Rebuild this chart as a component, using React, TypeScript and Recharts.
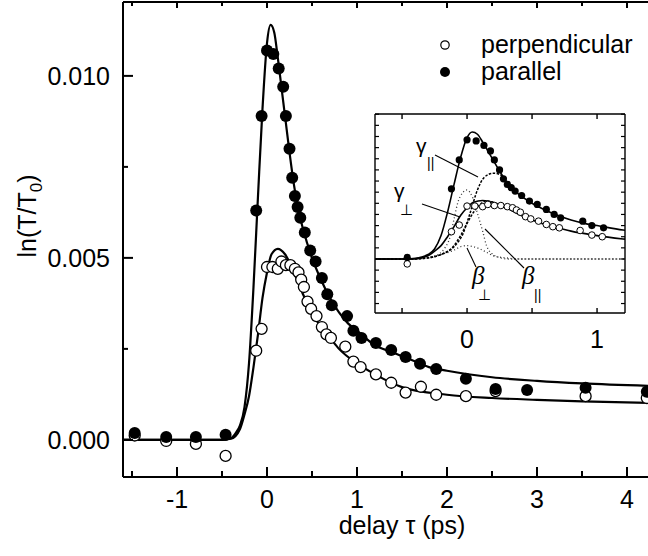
import React from "react";
import { ComposedChart, Line, Scatter, XAxis, YAxis } from "recharts";

const FONT = "'Liberation Sans', Arial, Helvetica, sans-serif";

// measured points: delay (ps), ln(T/T0)
const perpendicular = [
  { x: -1.47, y: 0.00012 }, { x: -1.12, y: -0.00003 }, { x: -0.79, y: -0.00011 }, { x: -0.46, y: -0.00044 },
  { x: -0.12, y: 0.00245 }, { x: -0.06, y: 0.00305 }, { x: 0.0, y: 0.00475 }, { x: 0.06, y: 0.00475 },
  { x: 0.12, y: 0.0047 }, { x: 0.16, y: 0.0049 }, { x: 0.21, y: 0.0048 }, { x: 0.26, y: 0.0048 },
  { x: 0.31, y: 0.0047 }, { x: 0.35, y: 0.0046 }, { x: 0.38, y: 0.0044 }, { x: 0.41, y: 0.0042 },
  { x: 0.45, y: 0.0038 }, { x: 0.49, y: 0.0036 }, { x: 0.55, y: 0.0034 }, { x: 0.61, y: 0.0031 },
  { x: 0.66, y: 0.0029 }, { x: 0.71, y: 0.0028 }, { x: 0.87, y: 0.00256 }, { x: 0.96, y: 0.00215 },
  { x: 1.04, y: 0.002 }, { x: 1.21, y: 0.0018 }, { x: 1.38, y: 0.00157 }, { x: 1.54, y: 0.0013 },
  { x: 1.71, y: 0.00146 }, { x: 1.88, y: 0.00124 }, { x: 2.21, y: 0.0012 }, { x: 2.54, y: 0.00134 },
  { x: 3.54, y: 0.0012 }, { x: 4.22, y: 0.00115 },
];

const parallel = [
  { x: -1.47, y: 0.00019 }, { x: -1.12, y: 0.00008 }, { x: -0.79, y: 0.00008 }, { x: -0.46, y: 0.00014 },
  { x: -0.12, y: 0.0063 }, { x: -0.06, y: 0.0089 }, { x: 0.0, y: 0.0107 }, { x: 0.07, y: 0.0106 },
  { x: 0.13, y: 0.0102 }, { x: 0.18, y: 0.0097 }, { x: 0.21, y: 0.0089 }, { x: 0.25, y: 0.008 },
  { x: 0.28, y: 0.0072 }, { x: 0.31, y: 0.0067 }, { x: 0.34, y: 0.0064 }, { x: 0.37, y: 0.0061 },
  { x: 0.42, y: 0.0057 }, { x: 0.48, y: 0.0052 }, { x: 0.54, y: 0.0049 }, { x: 0.61, y: 0.00445 },
  { x: 0.67, y: 0.004 }, { x: 0.72, y: 0.0037 }, { x: 0.89, y: 0.0034 }, { x: 0.96, y: 0.003 },
  { x: 1.05, y: 0.0028 }, { x: 1.21, y: 0.00266 }, { x: 1.38, y: 0.00247 }, { x: 1.54, y: 0.00228 },
  { x: 1.7, y: 0.00209 }, { x: 1.88, y: 0.00195 }, { x: 2.21, y: 0.00168 }, { x: 2.54, y: 0.0014 },
  { x: 2.89, y: 0.00137 }, { x: 3.54, y: 0.00143 }, { x: 4.22, y: 0.00132 },
];

// fitted curves
const parallelFit = [
  { x: -1.6, y: 0 }, { x: -0.5, y: 0 }, { x: -0.4, y: 0.00005 }, { x: -0.35, y: 0.00018 },
  { x: -0.3, y: 0.0004 }, { x: -0.25, y: 0.0009 }, { x: -0.2, y: 0.0021 }, { x: -0.15, y: 0.0042 },
  { x: -0.1, y: 0.0067 }, { x: -0.05, y: 0.0091 }, { x: 0.0, y: 0.0109 }, { x: 0.04, y: 0.0114 },
  { x: 0.08, y: 0.0112 }, { x: 0.12, y: 0.0105 }, { x: 0.16, y: 0.0097 }, { x: 0.2, y: 0.0089 },
  { x: 0.25, y: 0.0079 }, { x: 0.3, y: 0.007 }, { x: 0.35, y: 0.0063 }, { x: 0.4, y: 0.0058 },
  { x: 0.5, y: 0.005 }, { x: 0.6, y: 0.0044 }, { x: 0.7, y: 0.0039 }, { x: 0.8, y: 0.0035 },
  { x: 0.9, y: 0.0032 }, { x: 1.0, y: 0.003 }, { x: 1.2, y: 0.0026 }, { x: 1.4, y: 0.0024 },
  { x: 1.6, y: 0.0022 }, { x: 1.8, y: 0.002 }, { x: 2.0, y: 0.0019 }, { x: 2.5, y: 0.00172 },
  { x: 3.0, y: 0.00162 }, { x: 3.5, y: 0.00155 }, { x: 4.3, y: 0.00148 },
];

const perpendicularFit = [
  { x: -1.6, y: 0 }, { x: -0.5, y: 0 }, { x: -0.4, y: 0.00003 }, { x: -0.3, y: 0.0003 },
  { x: -0.25, y: 0.0007 }, { x: -0.2, y: 0.0012 }, { x: -0.15, y: 0.002 }, { x: -0.1, y: 0.0029 },
  { x: -0.05, y: 0.0039 }, { x: 0.0, y: 0.0046 }, { x: 0.05, y: 0.0051 }, { x: 0.12, y: 0.00525 },
  { x: 0.2, y: 0.0051 }, { x: 0.3, y: 0.0046 }, { x: 0.4, y: 0.004 }, { x: 0.5, y: 0.0035 },
  { x: 0.6, y: 0.0031 }, { x: 0.7, y: 0.0028 }, { x: 0.8, y: 0.0025 }, { x: 1.0, y: 0.0021 },
  { x: 1.2, y: 0.0018 }, { x: 1.5, y: 0.00145 }, { x: 2.0, y: 0.00124 }, { x: 2.5, y: 0.00115 },
  { x: 3.0, y: 0.0011 }, { x: 3.5, y: 0.00106 }, { x: 4.3, y: 0.00101 },
];

// inset components
const gammaPar = [
  { x: -0.71, y: 0 }, { x: -0.45, y: 0 }, { x: -0.3, y: 0.0001 }, { x: -0.2, y: 0.0004 },
  { x: -0.1, y: 0.0011 }, { x: -0.03, y: 0.0023 }, { x: 0.02, y: 0.004 }, { x: 0.08, y: 0.0062 },
  { x: 0.13, y: 0.0073 }, { x: 0.2, y: 0.0077 }, { x: 0.25, y: 0.0076 }, { x: 0.3, y: 0.0071 },
];

const gammaPerp = [
  { x: -0.71, y: 0 }, { x: -0.45, y: 0 }, { x: -0.3, y: 0.0001 }, { x: -0.2, y: 0.0004 },
  { x: -0.1, y: 0.0012 }, { x: -0.05, y: 0.0021 }, { x: 0.0, y: 0.0032 }, { x: 0.05, y: 0.0042 },
  { x: 0.1, y: 0.0049 }, { x: 0.15, y: 0.0052 }, { x: 0.2, y: 0.0051 },
];

const betaPar = [
  { x: -0.71, y: 0 }, { x: -0.45, y: 0 }, { x: -0.3, y: 0.0001 }, { x: -0.22, y: 0.0004 },
  { x: -0.17, y: 0.001 }, { x: -0.13, y: 0.002 }, { x: -0.1, y: 0.0036 }, { x: -0.07, y: 0.0051 },
  { x: -0.03, y: 0.006 }, { x: 0.0, y: 0.0062 }, { x: 0.04, y: 0.0056 }, { x: 0.08, y: 0.0041 },
  { x: 0.12, y: 0.0025 }, { x: 0.15, y: 0.0012 }, { x: 0.2, y: 0.0004 }, { x: 0.26, y: 0.0001 },
  { x: 0.32, y: 0 }, { x: 1.25, y: 0 },
];

const betaPerp = [
  { x: -0.71, y: 0 }, { x: -0.5, y: 0 }, { x: -0.35, y: 0.0001 }, { x: -0.2, y: 0.0004 },
  { x: -0.1, y: 0.0008 }, { x: -0.05, y: 0.0011 }, { x: 0.0, y: 0.0012 }, { x: 0.05, y: 0.0011 },
  { x: 0.1, y: 0.0009 }, { x: 0.15, y: 0.0006 }, { x: 0.2, y: 0.0003 }, { x: 0.3, y: 0.0001 },
  { x: 0.4, y: 0 }, { x: 1.25, y: 0 },
];

const xTicksMain = [-1.5, -1, -0.5, 0, 0.5, 1, 1.5, 2, 2.5, 3, 3.5, 4];
const yTicksMain = [0, 0.0025, 0.005, 0.0075, 0.01];
const xTicksInset = [-0.5, 0, 0.5, 1];
const yTicksInset = [-0.004, -0.003, -0.002, -0.001, 0, 0.001, 0.002, 0.003, 0.004, 0.005, 0.006, 0.007, 0.008, 0.009, 0.01, 0.011, 0.012, 0.013];

const isInt = (v: number) => Math.abs(v - Math.round(v)) < 1e-6;
const isMajorY = (v: number) => Math.abs(v * 200 - Math.round(v * 200)) < 1e-6;

function xTick(dir: number, majorLen: number, minorLen: number, sw: number, label: ((v: number) => string | null) | null, labelDy: number) {
  return (props: any) => {
    const { x, y, payload } = props;
    const v = payload.value;
    const len = isInt(v) ? majorLen : minorLen;
    const lab = label ? label(v) : null;
    return (
      <g>
        <line x1={x} y1={y} x2={x} y2={y + dir * len} stroke="#000" strokeWidth={sw} />
        {lab !== null && (
          <text x={x} y={y + labelDy} textAnchor="middle" fontFamily={FONT} fontSize={25} fill="#000">
            {lab}
          </text>
        )}
      </g>
    );
  };
}

function yTick(dir: number, isMajor: (v: number) => boolean, majorLen: number, minorLen: number, sw: number, label: ((v: number) => string | null) | null) {
  return (props: any) => {
    const { x, y, payload } = props;
    const v = payload.value;
    const len = isMajor(v) ? majorLen : minorLen;
    const lab = label ? label(v) : null;
    return (
      <g>
        <line x1={x} y1={y} x2={x + dir * len} y2={y} stroke="#000" strokeWidth={sw} />
        {lab !== null && (
          <text x={x - 13} y={y + 9} textAnchor="end" fontFamily={FONT} fontSize={25} fill="#000">
            {lab}
          </text>
        )}
      </g>
    );
  };
}

const openDot = (r: number, sw: number) => (p: any) => (
  <circle cx={p.cx} cy={p.cy} r={r} fill="#fff" stroke="#000" strokeWidth={sw} />
);
const fullDot = (r: number) => (p: any) => <circle cx={p.cx} cy={p.cy} r={r} fill="#000" />;

const MAIN_X: [number, number] = [-1.6, 4.3];
const MAIN_Y: [number, number] = [-0.00102, 0.01203];
const INSET_X: [number, number] = [-0.708, 1.215];
const INSET_Y: [number, number] = [-0.00485, 0.01302];

const inInset = (p: { x: number }) => p.x > INSET_X[0] && p.x < INSET_X[1] - 0.1;

export default function App() {
  const axisLine = { stroke: "#000", strokeWidth: 2 };
  const insetLine = { stroke: "#000", strokeWidth: 1.4 };
  return (
    <div style={{ position: "fixed", left: 0, top: 0, width: 648, height: 556, overflow: "hidden", background: "#fff" }}>
      {/* main chart */}
      <div style={{ position: "absolute", left: 0, top: 0 }}>
        <ComposedChart width={700} height={556} margin={{ top: 1, right: 46, bottom: 78, left: 122 }}>
          <XAxis xAxisId="b" type="number" dataKey="x" domain={MAIN_X} allowDataOverflow ticks={xTicksMain} interval={0}
            height={1} tickSize={0} tickMargin={0} tickLine={false} axisLine={axisLine}
            tick={xTick(-1, 10, 6, 2, (v) => (isInt(v) ? String(v) : null), 31)} />
          <XAxis xAxisId="t" orientation="top" type="number" dataKey="x" domain={MAIN_X} allowDataOverflow ticks={xTicksMain} interval={0}
            height={1} tickSize={0} tickMargin={0} tickLine={false} axisLine={axisLine}
            tick={xTick(1, 6, 4, 2, null, 0)} />
          <YAxis yAxisId="l" type="number" dataKey="y" domain={MAIN_Y} allowDataOverflow ticks={yTicksMain} interval={0}
            width={1} tickSize={0} tickMargin={0} tickLine={false} axisLine={axisLine}
            tick={yTick(1, isMajorY, 10, 5, 2, (v) => (isMajorY(v) ? v.toFixed(3) : null))} />
          <Line xAxisId="b" yAxisId="l" data={perpendicularFit} dataKey="y" type="monotone" stroke="#000" strokeWidth={2.2} dot={false} isAnimationActive={false} />
          <Line xAxisId="b" yAxisId="l" data={parallelFit} dataKey="y" type="monotone" stroke="#000" strokeWidth={2.2} dot={false} isAnimationActive={false} />
          <Scatter xAxisId="b" yAxisId="l" data={perpendicular} dataKey="y" shape={openDot(5.5, 1.3)} isAnimationActive={false} />
          <Scatter xAxisId="b" yAxisId="l" data={parallel} dataKey="y" shape={fullDot(6)} isAnimationActive={false} />
        </ComposedChart>
      </div>

      {/* inset */}
      <div style={{ position: "absolute", left: 375, top: 114, width: 250, height: 199, background: "#fff" }} />
      <div style={{ position: "absolute", left: 365, top: 113 }}>
        <ComposedChart width={270} height={245} margin={{ top: 0, right: 9, bottom: 44, left: 9 }}>
          <XAxis xAxisId="b" type="number" dataKey="x" domain={INSET_X} allowDataOverflow ticks={xTicksInset} interval={0}
            height={1} tickSize={0} tickMargin={0} tickLine={false} axisLine={insetLine}
            tick={xTick(-1, 5, 5, 1.4, (v) => (v === 0 || v === 1 ? String(v) : null), 35)} />
          <XAxis xAxisId="t" orientation="top" type="number" dataKey="x" domain={INSET_X} allowDataOverflow ticks={xTicksInset} interval={0}
            height={1} tickSize={0} tickMargin={0} tickLine={false} axisLine={insetLine}
            tick={xTick(1, 5, 5, 1.4, null, 0)} />
          <YAxis yAxisId="l" type="number" dataKey="y" domain={INSET_Y} allowDataOverflow ticks={yTicksInset} interval={0}
            width={1} tickSize={0} tickMargin={0} tickLine={false} axisLine={insetLine}
            tick={yTick(1, () => true, 4, 4, 1.2, null)} />
          <YAxis yAxisId="r" orientation="right" type="number" dataKey="y" domain={INSET_Y} allowDataOverflow ticks={yTicksInset} interval={0}
            width={1} tickSize={0} tickMargin={0} tickLine={false} axisLine={insetLine}
            tick={yTick(-1, () => true, 4, 4, 1.2, null)} />
          <Line xAxisId="b" yAxisId="l" data={betaPerp} dataKey="y" type="monotone" stroke="#333" strokeWidth={1.3} strokeDasharray="1 2.5" dot={false} isAnimationActive={false} />
          <Line xAxisId="b" yAxisId="l" data={betaPar} dataKey="y" type="monotone" stroke="#333" strokeWidth={1.3} strokeDasharray="1 2.5" dot={false} isAnimationActive={false} />
          <Line xAxisId="b" yAxisId="l" data={gammaPerp} dataKey="y" type="monotone" stroke="#000" strokeWidth={1.5} strokeDasharray="2.5 1.5" dot={false} isAnimationActive={false} />
          <Line xAxisId="b" yAxisId="l" data={gammaPar} dataKey="y" type="monotone" stroke="#000" strokeWidth={1.5} strokeDasharray="2.5 1.5" dot={false} isAnimationActive={false} />
          <Line xAxisId="b" yAxisId="l" data={perpendicularFit} dataKey="y" type="monotone" stroke="#000" strokeWidth={1.6} dot={false} isAnimationActive={false} />
          <Line xAxisId="b" yAxisId="l" data={parallelFit} dataKey="y" type="monotone" stroke="#000" strokeWidth={1.6} dot={false} isAnimationActive={false} />
          <Scatter xAxisId="b" yAxisId="l" data={perpendicular.filter(inInset)} dataKey="y" shape={openDot(3.3, 1)} isAnimationActive={false} />
          <Scatter xAxisId="b" yAxisId="l" data={parallel.filter(inInset)} dataKey="y" shape={fullDot(3.6)} isAnimationActive={false} />
        </ComposedChart>
      </div>

      {/* labels, legend, inset annotations */}
      <svg width={648} height={556} style={{ position: "absolute", left: 0, top: 0, pointerEvents: "none" }}>
        <text x={402} y={534} textAnchor="middle" fontFamily={FONT} fontSize={25} fill="#000">delay τ (ps)</text>
        <text transform="translate(36,216) rotate(-90)" textAnchor="middle" fontFamily={FONT} fontSize={25} fill="#000">
          ln(T/T<tspan fontSize={17} dy={6}>0</tspan><tspan dy={-6}>)</tspan>
        </text>

        <circle cx={445} cy={45} r={4.2} fill="#fff" stroke="#000" strokeWidth={1.2} />
        <text x={481} y={53} fontFamily={FONT} fontSize={25} fill="#000">perpendicular</text>
        <circle cx={445} cy={72} r={5} fill="#000" />
        <text x={481} y={80} fontFamily={FONT} fontSize={25} fill="#000">parallel</text>

        <line x1={435} y1={155} x2={478} y2={177} stroke="#000" strokeWidth={1.1} />
        <line x1={422} y1={204} x2={460} y2={217} stroke="#000" strokeWidth={1.1} />
        <line x1={467} y1={248} x2={476} y2={267} stroke="#000" strokeWidth={1.1} />
        <line x1={485} y1={229} x2={524} y2={268} stroke="#000" strokeWidth={1.1} />

        <text x={416} y={153} fontFamily={FONT} fontSize={21} fill="#000">γ</text>
        <text x={427} y={168} fontFamily={FONT} fontSize={14} fill="#000">||</text>
        <text x={394} y={198} fontFamily={FONT} fontSize={21} fill="#000">γ</text>
        <text x={400} y={215} fontFamily={FONT} fontSize={15} fill="#000">⊥</text>
        <text x={472} y={284} fontFamily="'Liberation Serif', serif" fontStyle="italic" fontSize={25} fill="#000">β</text>
        <text x={478} y={300} fontFamily={FONT} fontSize={15} fill="#000">⊥</text>
        <text x={522} y={284} fontFamily="'Liberation Serif', serif" fontStyle="italic" fontSize={25} fill="#000">β</text>
        <text x={534} y={300} fontFamily={FONT} fontSize={14} fill="#000">||</text>
      </svg>
    </div>
  );
}
